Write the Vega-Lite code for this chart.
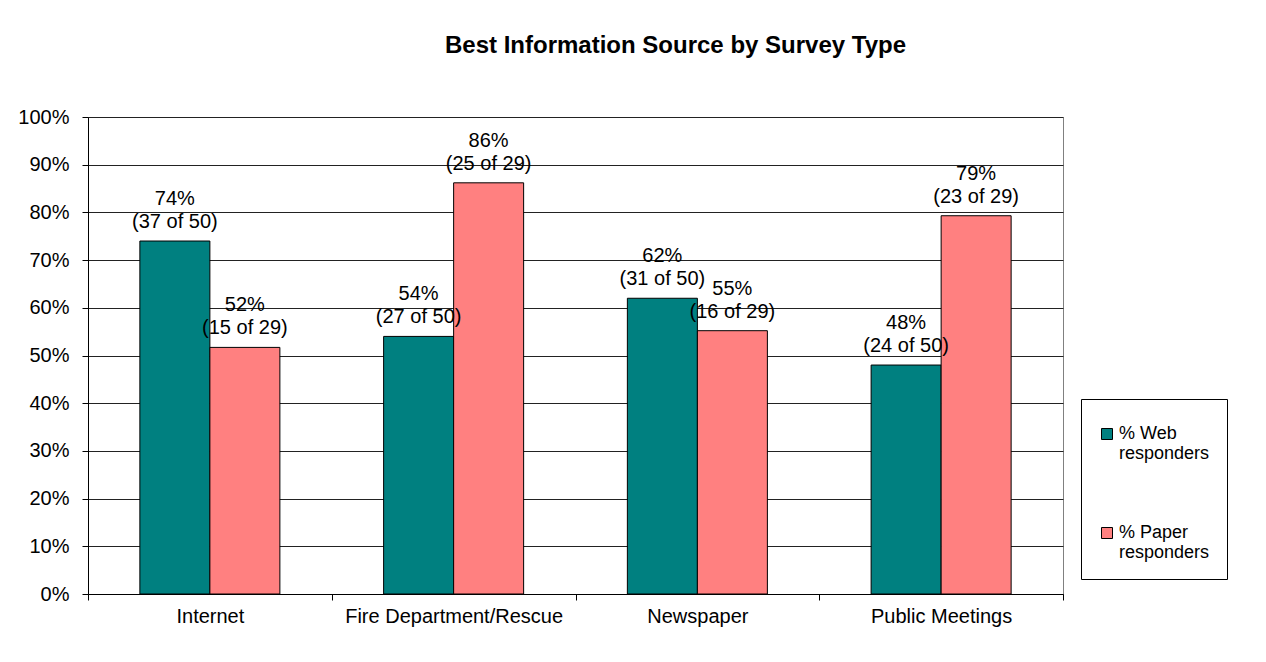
{
  "$schema": "https://vega.github.io/schema/vega-lite/v6.json",
  "width": 975,
  "height": 477,
  "autosize": {"type": "none"},
  "padding": {"left": 88, "top": 117, "right": 203, "bottom": 68},
  "background": "white",
  "config": {
    "font": "Liberation Sans",
    "view": {"stroke": "#808080", "strokeWidth": 1},
    "axis": {"labelFont": "Liberation Sans", "labelFontSize": 20, "labelColor": "#000", "domainColor": "#000", "tickColor": "#000", "tickSize": 6}
  },
  "title": {"text": "Best Information Source by Survey Type", "fontSize": 24, "fontWeight": "bold", "font": "Liberation Sans", "color": "#000", "anchor": "middle", "baseline": "alphabetic", "offset": 30, "dx": 100},
  "data": {
    "values": [
      {"source": "Internet", "series": "% Web responders", "value": 0.74, "count": "37 of 50"},
      {"source": "Internet", "series": "% Paper responders", "value": 0.517, "count": "15 of 29"},
      {"source": "Fire Department/Rescue", "series": "% Web responders", "value": 0.54, "count": "27 of 50"},
      {"source": "Fire Department/Rescue", "series": "% Paper responders", "value": 0.862, "count": "25 of 29"},
      {"source": "Newspaper", "series": "% Web responders", "value": 0.62, "count": "31 of 50"},
      {"source": "Newspaper", "series": "% Paper responders", "value": 0.552, "count": "16 of 29"},
      {"source": "Public Meetings", "series": "% Web responders", "value": 0.48, "count": "24 of 50"},
      {"source": "Public Meetings", "series": "% Paper responders", "value": 0.793, "count": "23 of 29"}
    ]
  },
  "transform": [
    {"calculate": "[format(datum.value, '.0%'), '(' + datum.count + ')']", "as": "lbl"}
  ],
  "encoding": {
    "x": {
      "field": "source", "type": "nominal", "sort": null,
      "scale": {"paddingInner": 0, "paddingOuter": 0},
      "axis": {"title": null, "labelAngle": 0, "tickBand": "extent", "labelPadding": 6, "labelLimit": 0, "grid": false}
    },
    "xOffset": {"field": "series", "type": "nominal", "sort": ["% Web responders", "% Paper responders"], "scale": {"paddingInner": 0, "paddingOuter": 0.741}},
    "y": {
      "field": "value", "type": "quantitative",
      "scale": {"domain": [0, 1], "nice": false},
      "axis": {"title": null, "format": ".0%", "values": [0, 0.1, 0.2, 0.3, 0.4, 0.5, 0.6, 0.7, 0.8, 0.9, 1], "grid": true, "gridColor": "#222", "gridOpacity": 1, "labelPadding": 13}
    }
  },
  "layer": [
    {
      "mark": {"type": "bar", "stroke": "#000", "strokeWidth": 1},
      "encoding": {
        "color": {
          "field": "series", "type": "nominal", "sort": ["% Web responders", "% Paper responders"],
          "scale": {"domain": ["% Web responders", "% Paper responders"], "range": ["#008080", "#FF8080"]},
          "legend": {
            "title": " ", "titleFontSize": 4, "titlePadding": 5, "orient": "none", "legendX": 993, "legendY": 282,
            "strokeColor": "#000", "fillColor": "#fff", "padding": 17,
            "symbolType": "square", "symbolSize": 121, "symbolStrokeColor": "#000", "symbolStrokeWidth": 1, "symbolOpacity": 1,
            "labelFontSize": 18, "labelFont": "Liberation Sans", "labelColor": "#000", "labelOffset": 3, "labelLineHeight": 23, "rowPadding": 61,
            "labelExpr": "datum.label == '% Web responders' ? ['% Web', 'responders'] : ['% Paper', 'responders']"
          }
        }
      }
    },
    {
      "mark": {"type": "text", "baseline": "alphabetic", "dy": -36, "fontSize": 20, "lineHeight": 23, "color": "#000", "font": "Liberation Sans"},
      "encoding": {"text": {"field": "lbl"}}
    }
  ]
}
